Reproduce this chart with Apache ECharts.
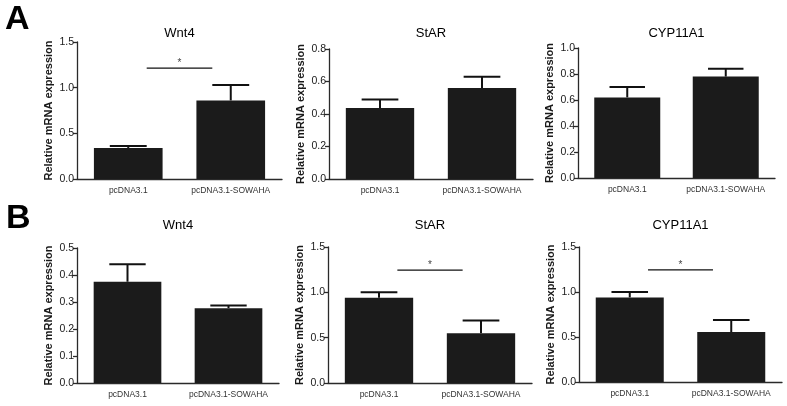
<!DOCTYPE html>
<html>
<head>
<meta charset="utf-8">
<script src="https://cdn.jsdelivr.net/npm/echarts@6/dist/echarts.min.js"></script>
<style>
html,body{margin:0;padding:0;background:#fff;}
#c{width:787px;height:406px;}
</style>
</head>
<body>
<div id="c"></div>
<script>
// ---- data ----
var categories = ['pcDNA3.1', 'pcDNA3.1-SOWAHA'];
var panelTitles = ['Wnt4', 'StAR', 'CYP11A1', 'Wnt4', 'StAR', 'CYP11A1'];
var meanA_Wnt4 = [0.34, 0.86];
var errA_Wnt4 = [0.36, 1.03];
var meanA_StAR = [0.437, 0.56];
var errA_StAR = [0.49, 0.63];
var meanA_CYP = [0.62, 0.78];
var errA_CYP = [0.70, 0.84];
var meanB_Wnt4 = [0.375, 0.277];
var errB_Wnt4 = [0.44, 0.287];
var meanB_StAR = [0.94, 0.55];
var errB_StAR = [1.0, 0.69];
var meanB_CYP = [0.94, 0.555];
var errB_CYP = [1.0, 0.69];
var yMax = [1.5, 0.8, 1.0, 0.5, 1.5, 1.5];
var yInterval = [0.5, 0.2, 0.2, 0.1, 0.5, 0.5];
var sigLevel = [1.215, null, null, null, 1.245, 1.245];

var means = [meanA_Wnt4, meanA_StAR, meanA_CYP, meanB_Wnt4, meanB_StAR, meanB_CYP];
var errs = [errA_Wnt4, errA_StAR, errA_CYP, errB_Wnt4, errB_StAR, errB_CYP];

// ---- layout ----
var grids = [
  {left: 77, top: 42, width: 205, height: 137},
  {left: 329, top: 49, width: 204, height: 130},
  {left: 578, top: 48, width: 197, height: 130},
  {left: 77, top: 248, width: 202, height: 135},
  {left: 328, top: 247, width: 204, height: 136},
  {left: 579, top: 247, width: 203, height: 135}
];
var titleY = [33, 33, 33, 225, 225, 225];
var FONT = '"Liberation Sans", Arial, sans-serif';
var AX = '#2a2a2a';

var xAxes = [], yAxes = [], series = [], graphics = [];
for (var i = 0; i < 6; i++) {
  xAxes.push({
    type: 'category', gridIndex: i, data: categories,
    axisLine: {lineStyle: {color: AX, width: 1.3}},
    axisTick: {alignWithLabel: true, length: 4, lineStyle: {color: AX, width: 1.3}},
    axisLabel: {fontSize: 8.5, color: '#333', fontFamily: FONT, margin: 7, interval: 0}
  });
  yAxes.push({
    type: 'value', gridIndex: i, min: 0, max: yMax[i], interval: yInterval[i],
    name: 'Relative mRNA expression', nameLocation: 'middle', nameGap: 23,
    nameTextStyle: {fontSize: 11, fontWeight: 'bold', color: '#1a1a1a', fontFamily: FONT},
    axisLine: {show: true, lineStyle: {color: AX, width: 1.3}},
    axisTick: {show: true, length: 4, lineStyle: {color: AX, width: 1.3}},
    axisLabel: {fontSize: 10.5, color: '#1a1a1a', fontFamily: FONT, margin: 3,
      formatter: function (v) { return v.toFixed(1); }},
    splitLine: {show: false}
  });
  series.push({
    type: 'bar', xAxisIndex: i, yAxisIndex: i, data: means[i],
    barWidth: '67%', itemStyle: {color: '#1b1b1b'}, silent: true
  });
  var ed = [];
  for (var k = 0; k < categories.length; k++) ed.push([k, means[i][k], errs[i][k]]);
  series.push({
    type: 'custom', xAxisIndex: i, yAxisIndex: i, data: ed, silent: true,
    renderItem: function (params, api) {
      var p0 = api.coord([api.value(0), api.value(1)]);
      var p1 = api.coord([api.value(0), api.value(2)]);
      var half = api.size([1, 0])[0] * 0.18;
      var st = {stroke: '#111', lineWidth: 2};
      return {type: 'group', children: [
        {type: 'line', shape: {x1: p0[0], y1: p0[1], x2: p1[0], y2: p1[1]}, style: st},
        {type: 'line', shape: {x1: p1[0] - half, y1: p1[1], x2: p1[0] + half, y2: p1[1]}, style: st}
      ]};
    }
  });
  if (sigLevel[i] != null) {
    series.push({
      type: 'custom', xAxisIndex: i, yAxisIndex: i, data: [[0, 1, sigLevel[i]]], silent: true,
      renderItem: function (params, api) {
        var a = api.coord([api.value(0), api.value(2)]);
        var b = api.coord([api.value(1), api.value(2)]);
        var x1 = a[0] + (b[0] - a[0]) * 0.18, x2 = a[0] + (b[0] - a[0]) * 0.82;
        return {type: 'group', children: [
          {type: 'line', shape: {x1: x1, y1: a[1], x2: x2, y2: a[1]}, style: {stroke: '#111', lineWidth: 1.3}},
          {type: 'text', x: (x1 + x2) / 2, y: a[1] - 5,
            style: {text: '*', fill: '#444', font: '10px ' + FONT, align: 'center', verticalAlign: 'middle'}}
        ]};
      }
    });
  }
  graphics.push({
    type: 'text', x: grids[i].left + grids[i].width / 2, y: titleY[i],
    style: {text: panelTitles[i], fill: '#000', font: '13px ' + FONT, align: 'center', verticalAlign: 'middle'}
  });
}
graphics.push({type: 'text', x: 5, y: 20, style: {text: 'A', fill: '#000', font: 'bold 34px ' + FONT, verticalAlign: 'middle'}});
graphics.push({type: 'text', x: 6, y: 219, style: {text: 'B', fill: '#000', font: 'bold 34px ' + FONT, verticalAlign: 'middle'}});

var chart = echarts.init(document.getElementById('c'), null, {renderer: 'canvas'});
chart.setOption({
  animation: false,
  backgroundColor: '#fff',
  grid: grids,
  xAxis: xAxes,
  yAxis: yAxes,
  series: series,
  graphic: graphics
});
</script>
</body>
</html>
